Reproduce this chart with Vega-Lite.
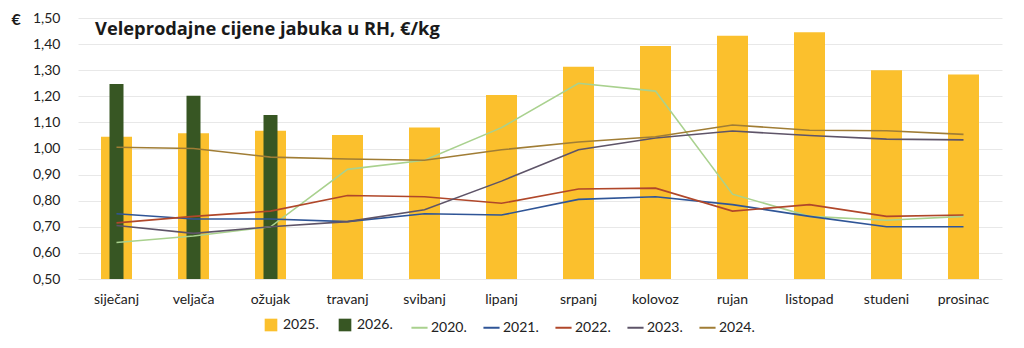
{
  "$schema": "https://vega.github.io/schema/vega-lite/v6.json",
  "autosize": "none",
  "width": 924,
  "height": 261,
  "padding": {"left": 78, "top": 18, "right": 22, "bottom": 69},
  "background": "#ffffff",
  "config": {
    "font": "Lato",
    "view": {"stroke": null},
    "axis": {"labelFont": "Lato", "labelColor": "#222222", "labelFontSize": 14, "domain": false, "ticks": false},
    "legend": {"labelFont": "Lato", "labelColor": "#222222", "labelFontSize": 14}
  },
  "title": {
    "text": "Veleprodajne cijene jabuka u RH, €/kg",
    "anchor": "start",
    "frame": "group",
    "orient": "top",
    "font": "Open Sans",
    "fontSize": 18.3,
    "fontWeight": "bold",
    "color": "#1a1a1a",
    "dx": 17,
    "dy": 32
  },
  "data": {
    "values": [
      {"month": "siječanj", "series": "2025.", "value": 1.045},
      {"month": "veljača", "series": "2025.", "value": 1.058},
      {"month": "ožujak", "series": "2025.", "value": 1.068},
      {"month": "travanj", "series": "2025.", "value": 1.052},
      {"month": "svibanj", "series": "2025.", "value": 1.08},
      {"month": "lipanj", "series": "2025.", "value": 1.205},
      {"month": "srpanj", "series": "2025.", "value": 1.313},
      {"month": "kolovoz", "series": "2025.", "value": 1.393},
      {"month": "rujan", "series": "2025.", "value": 1.432},
      {"month": "listopad", "series": "2025.", "value": 1.445},
      {"month": "studeni", "series": "2025.", "value": 1.30},
      {"month": "prosinac", "series": "2025.", "value": 1.284},
      {"month": "siječanj", "series": "2026.", "value": 1.247},
      {"month": "veljača", "series": "2026.", "value": 1.202},
      {"month": "ožujak", "series": "2026.", "value": 1.128},
      {"month": "siječanj", "series": "2020.", "value": 0.64},
      {"month": "veljača", "series": "2020.", "value": 0.665},
      {"month": "ožujak", "series": "2020.", "value": 0.70},
      {"month": "travanj", "series": "2020.", "value": 0.92},
      {"month": "svibanj", "series": "2020.", "value": 0.955},
      {"month": "lipanj", "series": "2020.", "value": 1.08},
      {"month": "srpanj", "series": "2020.", "value": 1.25},
      {"month": "kolovoz", "series": "2020.", "value": 1.22},
      {"month": "rujan", "series": "2020.", "value": 0.825},
      {"month": "listopad", "series": "2020.", "value": 0.74},
      {"month": "studeni", "series": "2020.", "value": 0.725},
      {"month": "prosinac", "series": "2020.", "value": 0.74},
      {"month": "siječanj", "series": "2021.", "value": 0.75},
      {"month": "veljača", "series": "2021.", "value": 0.73},
      {"month": "ožujak", "series": "2021.", "value": 0.73},
      {"month": "travanj", "series": "2021.", "value": 0.72},
      {"month": "svibanj", "series": "2021.", "value": 0.75},
      {"month": "lipanj", "series": "2021.", "value": 0.745},
      {"month": "srpanj", "series": "2021.", "value": 0.805},
      {"month": "kolovoz", "series": "2021.", "value": 0.815},
      {"month": "rujan", "series": "2021.", "value": 0.785},
      {"month": "listopad", "series": "2021.", "value": 0.74},
      {"month": "studeni", "series": "2021.", "value": 0.70},
      {"month": "prosinac", "series": "2021.", "value": 0.70},
      {"month": "siječanj", "series": "2022.", "value": 0.715},
      {"month": "veljača", "series": "2022.", "value": 0.74},
      {"month": "ožujak", "series": "2022.", "value": 0.76},
      {"month": "travanj", "series": "2022.", "value": 0.82},
      {"month": "svibanj", "series": "2022.", "value": 0.815},
      {"month": "lipanj", "series": "2022.", "value": 0.79},
      {"month": "srpanj", "series": "2022.", "value": 0.845},
      {"month": "kolovoz", "series": "2022.", "value": 0.848},
      {"month": "rujan", "series": "2022.", "value": 0.76},
      {"month": "listopad", "series": "2022.", "value": 0.785},
      {"month": "studeni", "series": "2022.", "value": 0.74},
      {"month": "prosinac", "series": "2022.", "value": 0.745},
      {"month": "siječanj", "series": "2023.", "value": 0.705},
      {"month": "veljača", "series": "2023.", "value": 0.675},
      {"month": "ožujak", "series": "2023.", "value": 0.70},
      {"month": "travanj", "series": "2023.", "value": 0.72},
      {"month": "svibanj", "series": "2023.", "value": 0.765},
      {"month": "lipanj", "series": "2023.", "value": 0.875},
      {"month": "srpanj", "series": "2023.", "value": 0.995},
      {"month": "kolovoz", "series": "2023.", "value": 1.04},
      {"month": "rujan", "series": "2023.", "value": 1.067},
      {"month": "listopad", "series": "2023.", "value": 1.05},
      {"month": "studeni", "series": "2023.", "value": 1.036},
      {"month": "prosinac", "series": "2023.", "value": 1.033},
      {"month": "siječanj", "series": "2024.", "value": 1.005},
      {"month": "veljača", "series": "2024.", "value": 1.0},
      {"month": "ožujak", "series": "2024.", "value": 0.967},
      {"month": "travanj", "series": "2024.", "value": 0.96},
      {"month": "svibanj", "series": "2024.", "value": 0.955},
      {"month": "lipanj", "series": "2024.", "value": 0.995},
      {"month": "srpanj", "series": "2024.", "value": 1.025},
      {"month": "kolovoz", "series": "2024.", "value": 1.045},
      {"month": "rujan", "series": "2024.", "value": 1.09},
      {"month": "listopad", "series": "2024.", "value": 1.07},
      {"month": "studeni", "series": "2024.", "value": 1.068},
      {"month": "prosinac", "series": "2024.", "value": 1.054}
    ]
  },
  "encoding": {
    "x": {
      "field": "month",
      "type": "nominal",
      "scale": {"domain": ["siječanj","veljača","ožujak","travanj","svibanj","lipanj","srpanj","kolovoz","rujan","listopad","studeni","prosinac"], "paddingInner": 0.6, "paddingOuter": 0.3},
      "axis": {"title": null, "labelAngle": 0, "labelPadding": 13, "grid": false}
    },
    "y": {
      "field": "value",
      "type": "quantitative",
      "scale": {"domain": [0.5, 1.5], "zero": false, "nice": false},
      "axis": {
        "values": [0.5,0.6,0.7,0.8,0.9,1.0,1.1,1.2,1.3,1.4,1.5],
        "labelExpr": "replace(format(datum.value, '.2f'), '.', ',')",
        "labelPadding": 18,
        "grid": true,
        "gridColor": "#e8e8e8",
        "gridWidth": 1,
        "title": "€",
        "titleAngle": 0,
        "titleFont": "Lato",
        "titleFontSize": 16,
        "titleFontWeight": "bold",
        "titleColor": "#1a1a1a",
        "titleAlign": "left",
        "titleBaseline": "middle",
        "titleX": -67,
        "titleY": 1
      }
    }
  },
  "layer": [
    {
      "transform": [{"filter": "datum.series === '2025.'"}],
      "mark": {"type": "bar", "size": 31, "clip": true},
      "encoding": {
        "fill": {
          "field": "series", "type": "nominal",
          "scale": {"domain": ["2025.", "2026."], "range": ["#FBC02D", "#375623"]},
          "legend": {"title": null, "orient": "none", "legendX": 186, "legendY": 300, "direction": "horizontal", "symbolType": "square", "symbolSize": 160, "symbolStrokeWidth": 0, "columnPadding": 19, "labelOffset": 5}
        }
      }
    },
    {
      "transform": [{"filter": "datum.series === '2026.'"}],
      "mark": {"type": "bar", "size": 14, "clip": true},
      "encoding": {
        "fill": {"field": "series", "type": "nominal"}
      }
    },
    {
      "transform": [{"filter": "datum.series !== '2025.' && datum.series !== '2026.'"}],
      "mark": {"type": "line", "strokeWidth": 1.6},
      "encoding": {
        "stroke": {
          "field": "series", "type": "nominal",
          "scale": {"domain": ["2020.", "2021.", "2022.", "2023.", "2024."], "range": ["#A9D18E", "#2F5597", "#B0472A", "#5E5468", "#A07D35"]},
          "legend": {"title": null, "orient": "none", "legendX": 332, "legendY": 300, "direction": "horizontal", "symbolType": "stroke", "symbolSize": 260, "symbolStrokeWidth": 2, "columnPadding": 12, "labelOffset": 2}
        }
      }
    }
  ]
}
